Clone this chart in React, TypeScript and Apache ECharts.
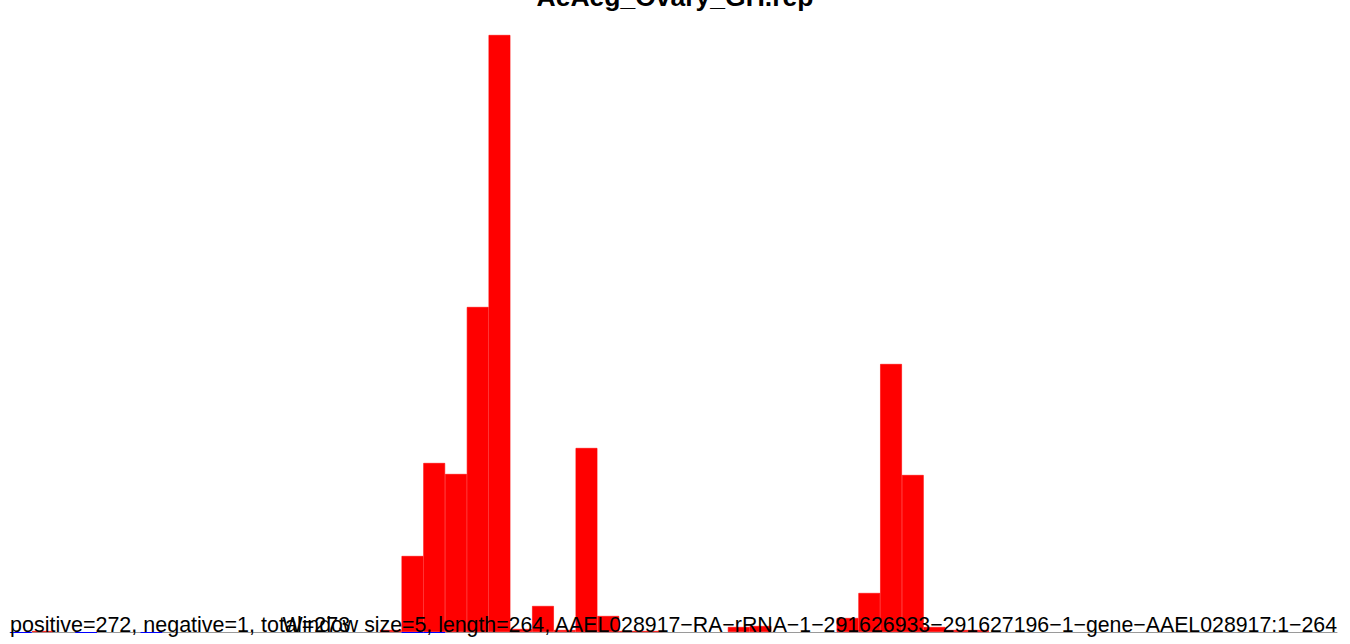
import React, { useEffect, useRef } from "react";
import * as echarts from "echarts";

const binCount = 61;
const binLabels: string[] = Array.from({ length: binCount }, (_, i) => String(i * 5));
// positive coverage per window (bin index -> value)
const positiveBins: number[] = [1, 17, 18, 19, 20, 21, 22, 23, 24, 25, 26, 27, 28, 29, 33, 34, 38, 39, 40, 41, 42, 43, 44];
const positiveVals: number[] = [1, 2, 76, 169, 158, 325, 597, 3, 26, 2, 184, 16, 1, 1, 5, 6, 14, 39, 268, 157, 5, 2, 2];
// negative coverage per window
const negativeBins: number[] = [0, 3, 6, 18, 19];
const negativeVals: number[] = [-1, -1, -1, -1, -1];

const titleText = "AeAeg_Ovary_GH.rep";
const leftNote = "positive=272, negative=1, total=273";
const rightNote =
  "Window size=5, length=264, AAEL028917\u2212RA\u2212rRNA\u22121\u2212291626933\u2212291627196\u22121\u2212gene\u2212AAEL028917:1\u2212264";

export default function App() {
  const ref = useRef<HTMLDivElement>(null);
  useEffect(() => {
    if (!ref.current) return;
    const chart = echarts.init(ref.current, null, { renderer: "svg" });
    const pos: (number | null)[] = Array(binCount).fill(null);
    positiveBins.forEach((b, i) => (pos[b] = positiveVals[i]));
    const neg: (number | null)[] = Array(binCount).fill(null);
    negativeBins.forEach((b, i) => (neg[b] = negativeVals[i]));
    chart.setOption({
      animation: false,
      grid: { left: 10, right: 13, top: 35, bottom: 10 },
      xAxis: {
        type: "category",
        data: binLabels,
        axisLine: { show: true, onZero: true, lineStyle: { color: "#9a9a9a", width: 1 } },
        axisTick: { show: false },
        axisLabel: { show: false },
        splitLine: { show: false },
      },
      yAxis: {
        type: "value",
        min: -2,
        max: 597,
        show: false,
        splitLine: { show: false },
      },
      series: [
        {
          type: "bar",
          data: pos,
          barWidth: "100%",
          barGap: "-100%",
          itemStyle: { color: "#ff0000", borderColor: "#ff0000", borderWidth: 0.6 },
          z: 2,
        },
        {
          type: "bar",
          data: neg,
          barWidth: "100%",
          barGap: "-100%",
          itemStyle: { color: "#0000ff", borderWidth: 0 },
          z: 2,
        },
      ],
      graphic: [
        {
          type: "text",
          x: 675,
          y: -3,
          style: {
            text: titleText,
            font: "bold 26.5px 'Liberation Sans', Arial, sans-serif",
            fill: "#000",
            align: "center",
            verticalAlign: "middle",
          },
          z: 10,
        },
        {
          type: "text",
          x: 10,
          y: 625,
          style: {
            text: leftNote,
            font: "21.5px 'Liberation Sans', Arial, sans-serif",
            fill: "#000",
            verticalAlign: "middle",
          },
          z: 10,
        },
        {
          type: "text",
          x: 1337,
          y: 625,
          style: {
            text: rightNote,
            font: "21.3px 'Liberation Sans', Arial, sans-serif",
            fill: "#000",
            align: "right",
            verticalAlign: "middle",
          },
          z: 10,
        },
      ],
    });
    return () => chart.dispose();
  }, []);
  return <div ref={ref} style={{ width: 1350, height: 644, position: "absolute", left: 0, top: 0 }} />;
}
